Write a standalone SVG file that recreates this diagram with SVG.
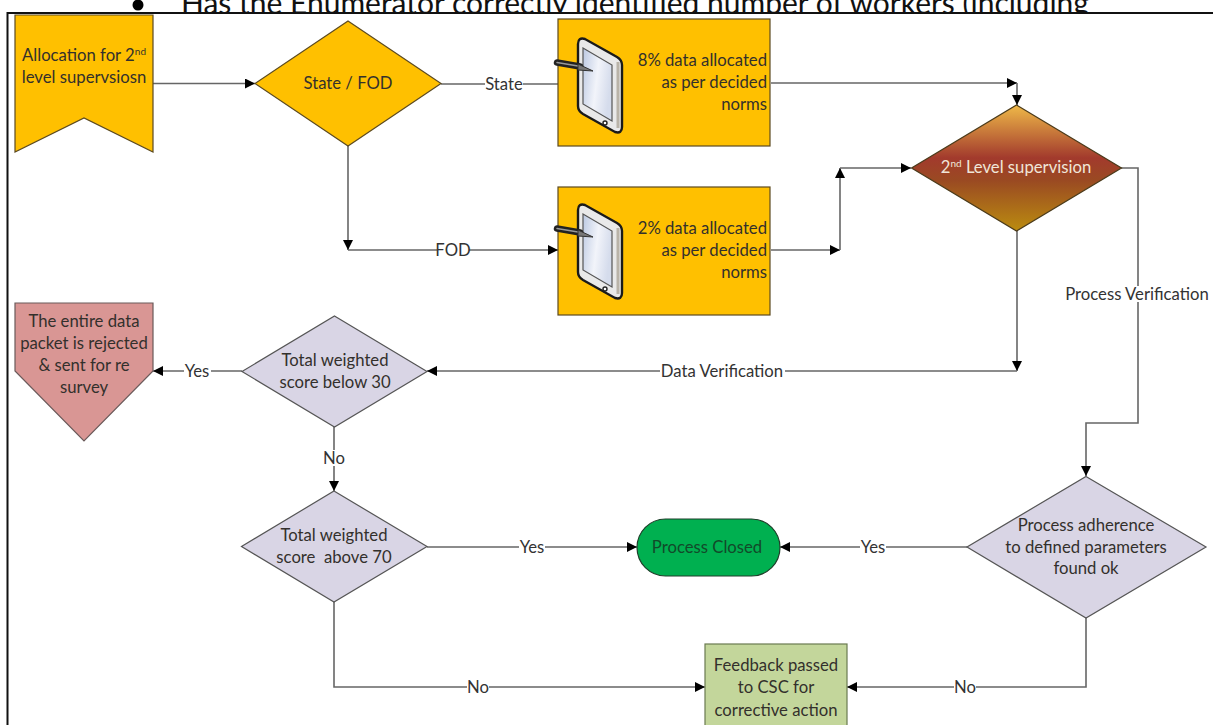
<svg xmlns="http://www.w3.org/2000/svg" width="1213" height="725" viewBox="0 0 1213 725">
<style>
text{font-family:Lato,"Open Sans","Liberation Sans",sans-serif;font-size:16.700px;fill:#33302c;text-anchor:middle}
.r{text-anchor:end}
.lab{fill:#333}
.ln{fill:none;stroke:#666;stroke-width:1.600}
.y{fill:#ffc000;stroke:#5c4a20;stroke-width:1.200}
.g{fill:#d9d5e5;stroke:#555;stroke-width:1.200}
.bg{fill:#fff}
</style>
<defs>
<linearGradient id="grad" x1="0" y1="0" x2="0" y2="1">
<stop offset="0" stop-color="#efb948"/><stop offset="0.42" stop-color="#a23a2d"/><stop offset="0.6" stop-color="#9a4a22"/><stop offset="1" stop-color="#bb8c10"/>
</linearGradient>
<linearGradient id="scr" x1="0" y1="0" x2="1" y2="0.3">
<stop offset="0" stop-color="#bcc9e2"/><stop offset="0.55" stop-color="#f2f4fa"/><stop offset="1" stop-color="#d5dcec"/>
</linearGradient>
<marker id="a" markerWidth="11" markerHeight="11" refX="10" refY="5" orient="auto" markerUnits="userSpaceOnUse"><path d="M0 0L10 5L0 10Z" fill="#000"/></marker>
<clipPath id="top"><rect x="0" y="0" width="1213" height="13"/></clipPath>
<g id="tablet">
<path d="M578 44Q578 37 585 39L617 57Q622 60 622 65V127Q622 134 615 132L583 114Q578 111 578 106Z" fill="#e9e9e9" stroke="#1a1a1a" stroke-width="2.400"/>
<path d="M618 62V128" stroke="#b9b3a8" stroke-width="3" fill="none"/>
<path d="M583 48L612 65V121L583 104Z" fill="url(#scr)" stroke="#555" stroke-width="1.200"/>
<circle cx="605" cy="123" r="2" fill="#fff" stroke="#222" stroke-width="1.400"/>
<path d="M557 62.500L580 66.500" stroke="#222" stroke-width="6.500" stroke-linecap="round" fill="none"/>
<path d="M557 62.500L578 66" stroke="#999" stroke-width="1.500" stroke-linecap="round" fill="none"/>
<path d="M578 64L593 71L578 70Z" fill="#777" stroke="#333" stroke-width="1"/>
</g>
</defs>
<rect width="1213" height="725" fill="#fff"/>
<g id="page-fragment">
<g clip-path="url(#top)">
<circle cx="138" cy="5" r="5.500" fill="#000"/>
<text x="181" y="14" style="font-size:30px;text-anchor:start;fill:#111">Has the Enumerator correctly identified number of workers (including</text>
</g>
<path d="M7.500 725V13H1213" fill="none" stroke="#111" stroke-width="2"/>
</g>
<g id="connectors">
<path class="ln" marker-end="url(#a)" d="M153 83.500H255"/>
<path class="ln" d="M441 84H558"/>
<path class="ln" marker-end="url(#a)" d="M771 83H1017"/>
<path class="ln" marker-end="url(#a)" d="M1017 83V105"/>
<path class="ln" marker-end="url(#a)" d="M348 146V250"/>
<path class="ln" marker-end="url(#a)" d="M348 250H558"/>
<path class="ln" marker-end="url(#a)" d="M771 250H840"/>
<path class="ln" marker-end="url(#a)" d="M840 250V168"/>
<path class="ln" marker-end="url(#a)" d="M840 168H911"/>
<path class="ln" marker-end="url(#a)" d="M1017 231V371"/>
<path class="ln" marker-end="url(#a)" d="M1017 371H427"/>
<path class="ln" marker-end="url(#a)" d="M1121 168H1138V423H1086V476"/>
<path class="ln" marker-end="url(#a)" d="M242 371H153"/>
<path class="ln" marker-end="url(#a)" d="M334 427V491"/>
<path class="ln" marker-end="url(#a)" d="M427 547H637"/>
<path class="ln" marker-end="url(#a)" d="M967 547H780"/>
<path class="ln" marker-end="url(#a)" d="M334 602V687H705"/>
<path class="ln" marker-end="url(#a)" d="M1086 617V687H847"/>
<g id="connector-labels">
<rect class="bg" x="485" y="76" width="38" height="16"/><text class="lab" x="504" y="90">State</text>
<rect class="bg" x="437" y="242" width="32" height="16"/><text class="lab" x="453" y="256">FOD</text>
<rect class="bg" x="660" y="363" width="125" height="16"/><text class="lab" x="722" y="377">Data Verification</text>
<rect class="bg" x="1064" y="286" width="147" height="16"/><text class="lab" x="1137" y="300">Process Verification</text>
<rect class="bg" x="184" y="363" width="27" height="16"/><text class="lab" x="197" y="377">Yes</text>
<rect class="bg" x="323" y="450" width="22" height="16"/><text class="lab" x="334" y="464">No</text>
<rect class="bg" x="519" y="539" width="26" height="16"/><text class="lab" x="532" y="553">Yes</text>
<rect class="bg" x="860" y="539" width="26" height="16"/><text class="lab" x="873" y="553">Yes</text>
<rect class="bg" x="467" y="679" width="22" height="16"/><text class="lab" x="478" y="693">No</text>
<rect class="bg" x="954" y="679" width="22" height="16"/><text class="lab" x="965" y="693">No</text>
</g>
</g>
<g id="allocation">
<path class="y" d="M15 15H153V152L84 118L15 152Z"/>
<text x="84" y="61">Allocation for 2<tspan font-size="10" dy="-6">nd</tspan></text>
<text x="84" y="83">level supervsiosn</text>
</g>
<g id="state-fod">
<path class="y" d="M348 21L441 83.500L348 146L255 83.500Z"/>
<text x="348" y="89">State / FOD</text>
</g>
<g id="data-8">
<rect class="y" x="558" y="19" width="212" height="127"/>
<use href="#tablet"/>
<text class="r" x="767" y="66">8% data allocated</text>
<text class="r" x="767" y="88">as per decided</text>
<text class="r" x="767" y="110">norms</text>
</g>
<g id="data-2">
<rect class="y" x="558" y="187" width="212" height="128"/>
<use href="#tablet" y="166"/>
<text class="r" x="767" y="234">2% data allocated</text>
<text class="r" x="767" y="256">as per decided</text>
<text class="r" x="767" y="278">norms</text>
</g>
<g id="level-2">
<path d="M1016.500 105L1121.500 168L1016.500 231L911.500 168Z" fill="url(#grad)" stroke="#4a3a1a" stroke-width="1.200"/>
<text x="1016" y="173" style="fill:#f0e6d8">2<tspan font-size="10" dy="-6">nd</tspan><tspan dy="6"> Level supervision</tspan></text>
</g>
<g id="rejected">
<path d="M15 303H153V371L84 441L15 371Z" fill="#d99694" stroke="#6a5a5a" stroke-width="1.200"/>
<text x="84" y="327">The entire data</text>
<text x="84" y="349">packet is rejected</text>
<text x="84" y="371">&amp; sent for re</text>
<text x="84" y="393">survey</text>
</g>
<g id="below-30">
<path class="g" d="M334.500 316L427 371.500L334.500 427L242 371.500Z"/>
<text x="335" y="366">Total weighted</text>
<text x="335" y="388">score below 30</text>
</g>
<g id="above-70">
<path class="g" d="M334 491L427 546.500L334 602L241.500 546.500Z"/>
<text x="334" y="541">Total weighted</text>
<text x="334" y="563" xml:space="preserve">score  above 70</text>
</g>
<g id="closed">
<rect x="637" y="519" width="143" height="57" rx="28.500" fill="#00b050" stroke="#1f3f2a" stroke-width="1.200"/>
<text x="707" y="553" style="fill:#124a2a">Process Closed</text>
</g>
<g id="adherence">
<path class="g" d="M1086 476.500L1206 547L1086 618L967 547Z"/>
<text x="1086" y="531">Process adherence</text>
<text x="1086" y="553">to defined parameters</text>
<text x="1086" y="574">found ok</text>
</g>
<g id="feedback">
<rect x="705" y="644" width="142" height="90" fill="#c3d69b" stroke="#6a7a50" stroke-width="1.200"/>
<text x="776" y="671">Feedback passed</text>
<text x="776" y="693">to CSC for</text>
<text x="776" y="716">corrective action</text>
</g>
</svg>
